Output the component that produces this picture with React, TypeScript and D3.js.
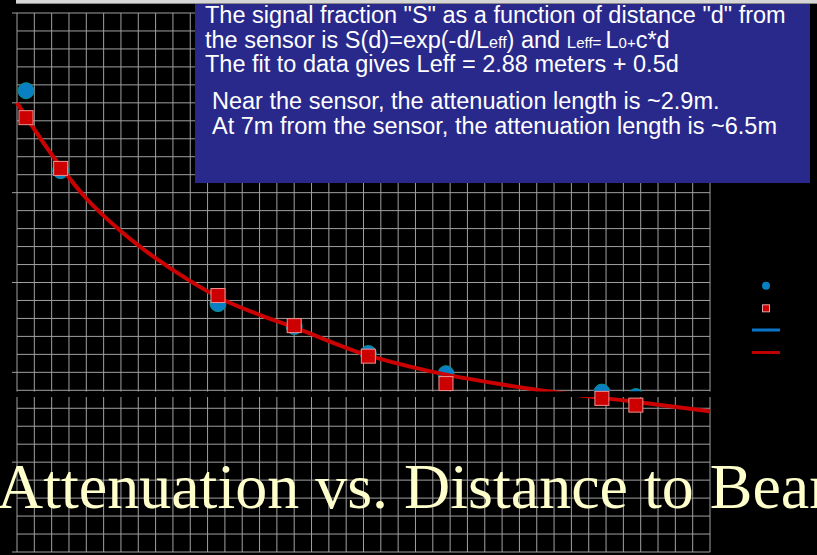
import * as React from "react";
import { line, curveMonotoneX, range, scaleLinear } from "d3";

// distance d (m) and signal fraction S
const blueD = [0.13, 0.63, 2.9, 4.0, 5.07, 6.19, 8.44, 8.93];
const blueS = [1.027, 0.849, 0.553, 0.502, 0.442, 0.397, 0.356, 0.346];
const redD = [0.13, 0.63, 2.9, 4.0, 5.07, 6.19, 8.44, 8.93];
const redS = [0.967, 0.854, 0.571, 0.504, 0.436, 0.375, 0.342, 0.327];
const fitD = [0, 0.5, 1, 1.5, 2, 2.5, 3, 3.5, 4, 5, 6, 7, 8, 9, 10];
const fitS = [1.0, 0.885, 0.787, 0.714, 0.654, 0.603, 0.56, 0.528, 0.5, 0.441, 0.401, 0.373, 0.351, 0.333, 0.313];

const noteLines = [
  'The signal fraction "S" as a function of distance "d" from',
  "the sensor is S(d)=exp(-d/Leff)  and Leff= L0+c*d",
  "The fit to data gives Leff = 2.88 meters + 0.5d",
  "",
  "Near the sensor, the attenuation length is ~2.9m.",
  "At 7m from the sensor, the attenuation length is ~6.5m",
];
const title = "Attenuation vs. Distance to Beam";

const W = 817;
const H = 555;

export default function App() {
  const x = scaleLinear().domain([0, 10]).range([17, 710]);
  const y = scaleLinear().domain([0, 1.2]).range([552, 13]);

  const vTicks = range(0, 10.001, 0.25);
  const hTicks = range(0, 1.2001, 0.04);
  const majors = range(0, 1.2001, 0.2);

  const fitPath = line<number>()
    .x((d) => x(d))
    .y((_, i) => y(fitS[i]))
    .curve(curveMonotoneX)(fitD);

  const grid = "#a0a0a0";
  const sans = "'Liberation Sans', Arial, sans-serif";
  const fs = 23.5;

  const renderNote = (t: string, i: number) => {
    if (!t) return null;
    const yy = i < 3 ? 23 + i * 24.5 : 109 + (i - 4) * 25;
    const xx = i < 3 ? 205 : 212;
    if (i === 1) {
      return (
        <text key={i} x={xx} y={yy} fill="white" fontSize={fs} fontFamily={sans}>
          {"the sensor is S(d)=exp(-d/L"}
          <tspan fontSize={16}>eff</tspan>
          {")  and "}
          <tspan fontSize={17}>L</tspan>
          <tspan fontSize={15}>eff= </tspan>
          {"L"}
          <tspan fontSize={15}>0+</tspan>
          {"c*d"}
        </text>
      );
    }
    return (
      <text key={i} x={xx} y={yy} fill="white" fontSize={fs} fontFamily={sans}>
        {t}
      </text>
    );
  };

  return (
    <svg width={W} height={H} style={{ position: "absolute", left: 0, top: 0, display: "block" }}>
      <defs>
        <clipPath id="upper">
          <rect x={0} y={0} width={W} height={391.5} />
        </clipPath>
      </defs>
      <rect width={W} height={H} fill="black" />

      {/* grid */}
      {vTicks.map((d) => (
        <line key={"v" + d} x1={x(d)} x2={x(d)} y1={y(1.2)} y2={y(0)} stroke={grid} strokeWidth={1} />
      ))}
      {hTicks.map((s) => (
        <line key={"h" + s} x1={x(0)} x2={x(10)} y1={y(s)} y2={y(s)} stroke={grid} strokeWidth={1} />
      ))}
      {majors.map((s) => (
        <line key={"m" + s} x1={12} x2={x(0)} y1={y(s)} y2={y(s)} stroke={grid} strokeWidth={1} />
      ))}

      {/* blue data */}
      <g clipPath="url(#upper)">
        {blueD.map((d, i) => (
          <circle key={"b" + i} cx={x(d)} cy={y(blueS[i])} r={8} fill="#0a80c4" stroke="#0a8f8f" strokeWidth={1} />
        ))}
      </g>

      {/* red fit */}
      <path d={fitPath ?? ""} fill="none" stroke="#cc0000" strokeWidth={4} />

      {/* black band over the plot */}
      <rect x={0} y={391.5} width={715} height={5.5} fill="black" />

      {/* red data */}
      {redD.map((d, i) => (
        <rect key={"r" + i} x={x(d) - 7} y={y(redS[i]) - 7} width={14} height={14} fill="#cc0000" stroke="#f09090" strokeWidth={1} />
      ))}

      {/* legend */}
      <circle cx={766} cy={285.7} r={4} fill="#0a80c4" />
      <rect x={762.5} y={304.8} width={7} height={7} fill="#cc0000" stroke="#e0a0a0" strokeWidth={1} />
      <line x1={752} x2={780} y1={330} y2={330} stroke="#0a74c8" strokeWidth={3} />
      <line x1={752} x2={780} y1={352.5} y2={352.5} stroke="#c00000" strokeWidth={3} />

      {/* note box */}
      <rect x={195} y={3} width={615} height={180} fill="#29298c" />
      <rect x={16} y={0} width={W - 16} height={3} fill="#d6d6d6" />
      <line x1={16} x2={W} y1={3.5} y2={3.5} stroke="#8a8a8a" strokeWidth={1} />
      {noteLines.map(renderNote)}

      {/* slide title */}
      <text x={-3} y={508} fill="#ffffcc" fontSize={64} fontFamily="'Liberation Serif', 'Times New Roman', serif">
        {title}
      </text>
    </svg>
  );
}
